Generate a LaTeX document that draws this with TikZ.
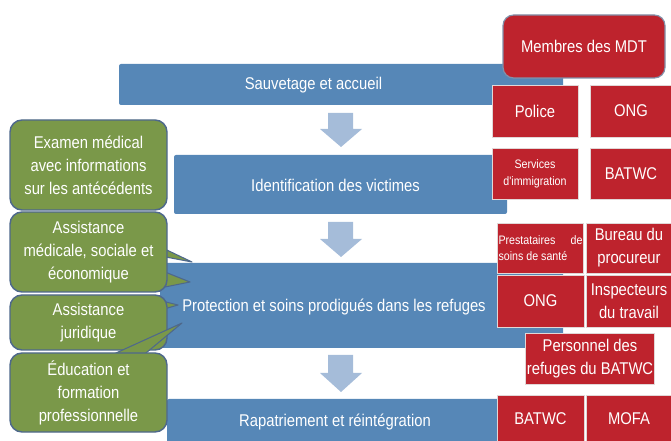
\documentclass[tikz,border=0pt]{standalone}
\usepackage{fontspec}
\newfontfamily\dgfont[FakeStretch=0.87]{Liberation Sans}
\usetikzlibrary{positioning}

\definecolor{barblue}{RGB}{86,135,183}
\definecolor{arrowblue}{RGB}{165,188,217}
\definecolor{boxred}{RGB}{190,35,45}
\definecolor{redline}{RGB}{225,215,215}
\definecolor{mdtline}{RGB}{130,145,170}
\definecolor{boxgreen}{RGB}{122,152,73}
\definecolor{greenline}{RGB}{78,104,140}

\tikzset{
  bartext/.style={font=\dgfont\fontsize{12.75}{17.25}\selectfont, text=white},
  redbox/.style={draw=redline, line width=0.6pt, fill=boxred, text=white, align=center,
    inner sep=1pt, font=\dgfont\fontsize{12.75}{17.25}\selectfont},
  smallred/.style={font=\dgfont\fontsize{9.2}{12.5}\selectfont},
  greenbox/.style={draw=greenline, line width=1.1pt, fill=boxgreen, rounded corners=9pt,
    text=white, align=center, minimum width=117.75pt,
    font=\dgfont\fontsize{12.75}{17.25}\selectfont},
  pointer/.style={draw=greenline, line width=0.8pt, fill=boxgreen, line join=round},
}

\begin{document}
\begin{tikzpicture}[x=0.75pt,y=-0.75pt]
\useasboundingbox (0,0) rectangle (671,441);
\clip (0,0) rectangle (671,441);

% steps
\fill[barblue, rounded corners=1.5pt] (119,64) rectangle (563,105);
\fill[barblue, rounded corners=1.5pt] (174,155) rectangle (507,214);
\fill[barblue, rounded corners=1.5pt] (160,263) rectangle (563,348);
\fill[barblue, rounded corners=1.5pt] (167,399) rectangle (563,446);

% down arrows
\fill[arrowblue] (328,113) -- (353,113) -- (353,129) -- (362,129) -- (341,147) -- (320,129) -- (328,129) -- cycle;
\fill[arrowblue] (328,222) -- (353,222) -- (353,239) -- (362,239) -- (341,257) -- (320,239) -- (328,239) -- cycle;
\fill[arrowblue] (328,355) -- (353,355) -- (353,373) -- (362,373) -- (341,392) -- (320,373) -- (328,373) -- cycle;

\node[bartext] (rescue) at (313.5,85) {Sauvetage et accueil};
\node[bartext] (ident) at (335.5,185) {Identification des victimes};
\node[bartext] (protect) at (334,307) {Protection et soins prodigués dans les refuges};
\node[bartext] (return) at (335,422) {Rapatriement et réintégration};

% MDT members
\node[redbox, draw=mdtline, line width=0.9pt, rounded corners=8pt,
  minimum width=121.5pt, minimum height=47.25pt] (mdt) at (584,46.5) {Membres des MDT};
\node[redbox, minimum width=64.5pt, minimum height=39pt] (police) at (535,111) {Police};
\node[redbox, minimum width=61.5pt, minimum height=39pt] (ngoa) at (631,111) {ONG};
\node[redbox, smallred, minimum width=64.5pt, minimum height=38.25pt] (immig) at (535,173.5) {Services\\d'immigration};
\node[redbox, minimum width=61.5pt, minimum height=38.25pt] (batwca) at (631,173.5) {BATWC};

\node[redbox, smallred, align=justify, text width=63pt, minimum height=37.5pt] (health) at (540.5,248) {Prestataires de soins de santé};
\node[redbox, minimum width=64.5pt, minimum height=37.5pt] (proc) at (629,248) {Bureau du\\procureur};
\node[redbox, minimum width=65.25pt, minimum height=39pt] (ngob) at (540.5,301) {ONG};
\node[redbox, minimum width=64.5pt, minimum height=39pt] (labour) at (629,301) {Inspecteurs\\du travail};
\node[redbox, minimum width=90pt, minimum height=38.25pt] (staff) at (590,358.5) {Personnel des\\refuges du BATWC};

\node[redbox, minimum width=65.25pt, minimum height=36pt] (batwcb) at (540.5,419) {BATWC};
\node[redbox, minimum width=64.5pt, minimum height=36pt] (mofa) at (629,419) {MOFA};

% services
\node[greenbox, minimum height=67.5pt] (exam) at (88.5,165) {Examen médical\\avec informations\\sur les antécédents};
\draw[pointer] (150,242) -- (192,262) -- (150,254);
\draw[pointer] (150,266) -- (190,282) -- (150,290);
\node[greenbox, minimum height=60pt] (care) at (88.5,252) {Assistance\\médicale, sociale et\\économique};
\draw[pointer] (150,298) -- (178,305) -- (150,313);
\node[greenbox, minimum height=41.25pt] (legal) at (88.5,322.5) {Assistance\\juridique};
\draw[pointer] (105,358) -- (182,323) -- (140,358);
\node[greenbox, minimum height=59.25pt] (train) at (88.5,392.5) {Éducation et\\formation\\professionnelle};
\end{tikzpicture}
\end{document}
